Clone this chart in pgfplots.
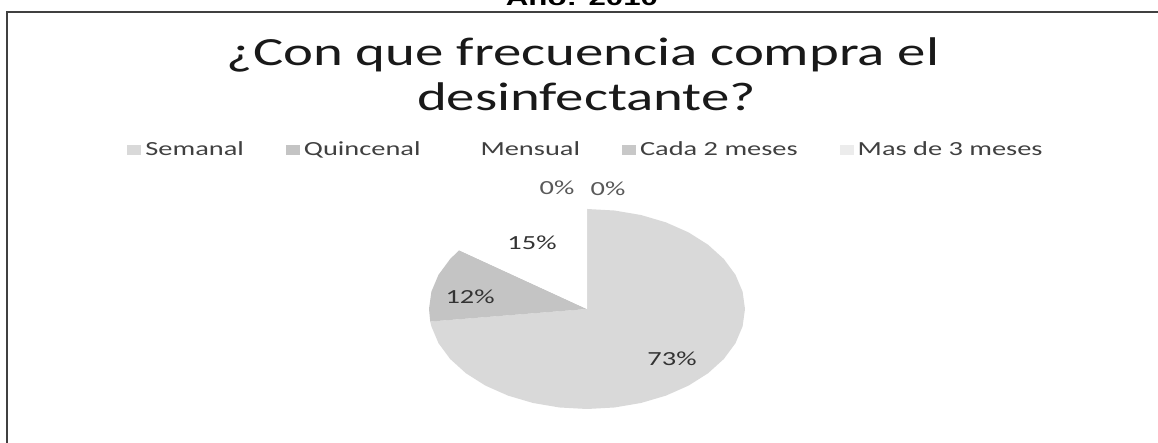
\documentclass[border=0pt]{standalone}
\usepackage{pgfplots}
\pgfplotsset{compat=1.18}
\usepackage{fontspec}
\setmainfont{Carlito}
\newfontfamily\arialfont{Liberation Sans}
\usepackage{graphicx}
\definecolor{semanal}{HTML}{D9D9D9}
\definecolor{quincenal}{HTML}{C4C4C4}
\definecolor{mensual}{HTML}{FFFFFF}
\definecolor{cada}{HTML}{C8C8C8}
\definecolor{mas}{HTML}{ECECEC}
\newcommand{\sx}[1]{\scalebox{1.42}[1]{#1}}
\begin{document}
\begin{tikzpicture}
\useasboundingbox (0,0) rectangle (579pt,-221.5pt);
\clip (0,0) rectangle (579pt,-221.5pt);
\fill[white] (0,0) rectangle (579pt,-221.5pt);
\draw[line width=1pt, black!75] (3.5pt,-221.5pt) -- (3.5pt,-6pt) -- (579pt,-6pt);
\node[anchor=base, inner sep=0pt, font=\arialfont\bfseries\fontsize{11}{13}\selectfont] at (291pt,-3pt) {\sx{Año: 2010}};
\node[anchor=base, inner sep=0pt, text=black!90, font=\fontsize{20}{24}\selectfont] at (291.5pt,-33pt) {\sx{¿Con que frecuencia compra el}};
\node[anchor=base, inner sep=0pt, text=black!90, font=\fontsize{20}{24}\selectfont] at (293.25pt,-55.5pt) {\sx{desinfectante?}};
\begin{axis}[
  at={(293.5pt,-154.5pt)}, anchor=origin,
  scale only axis, width=158pt, height=100pt,
  xmin=-1, xmax=1, ymin=-1, ymax=1,
  hide axis, clip=false,
  legend columns=5,
  legend style={draw=none, fill=none, at={(0.5,1.295)}, anchor=center,
    font=\fontsize{10}{12}\selectfont, text=black!75,
    /tikz/every even column/.append style={column sep=19pt}},
  legend image code/.code={\fill[#1] (0pt,-2.5pt) rectangle (7pt,2.5pt);},
]
\addplot[fill=semanal, draw=none, data cs=polar] coordinates {
 (0,0) (90,1) (80,1) (70,1) (60,1) (50,1) (40,1) (30,1) (20,1) (10,1) (0,1)
 (-10,1) (-20,1) (-30,1) (-40,1) (-50,1) (-60,1) (-70,1) (-80,1) (-90,1)
 (-100,1) (-110,1) (-120,1) (-130,1) (-140,1) (-150,1) (-160,1) (-170,1) (-172.8,1)
} -- cycle;
\addlegendentry{\sx{Semanal}}
\addplot[fill=quincenal, draw=none, data cs=polar] coordinates {
 (0,0) (-172.8,1) (-180,1) (-190,1) (-200,1) (-210,1) (-216,1)
} -- cycle;
\addlegendentry{\sx{Quincenal}}
\addplot[fill=mensual, draw=none, data cs=polar] coordinates {
 (0,0) (-216,1) (-220,1) (-230,1) (-240,1) (-250,1) (-260,1) (-270,1)
} -- cycle;
\addlegendentry{\sx{Mensual}}
\addplot[fill=cada, draw=none, data cs=polar] coordinates {
 (0,0) (90,1) (90,1)
} -- cycle;
\addlegendentry{\sx{Cada 2 meses}}
\addplot[fill=mas, draw=none, data cs=polar] coordinates {
 (0,0) (90,1) (90,1)
} -- cycle;
\addlegendentry{\sx{Mas de 3 meses}}
\node[text=black!80, font=\fontsize{10}{12}\selectfont] at (axis cs:0.538,-0.5) {\sx{73\%}};
\node[text=black!80, font=\fontsize{10}{12}\selectfont] at (axis cs:-0.74,0.12) {\sx{12\%}};
\node[text=black!80, font=\fontsize{10}{12}\selectfont] at (axis cs:-0.348,0.66) {\sx{15\%}};
\node[text=black!65, font=\fontsize{10}{12}\selectfont] at (axis cs:-0.19,1.21) {\sx{0\%}};
\node[text=black!65, font=\fontsize{10}{12}\selectfont] at (axis cs:0.133,1.2) {\sx{0\%}};
\end{axis}
\end{tikzpicture}
\end{document}
